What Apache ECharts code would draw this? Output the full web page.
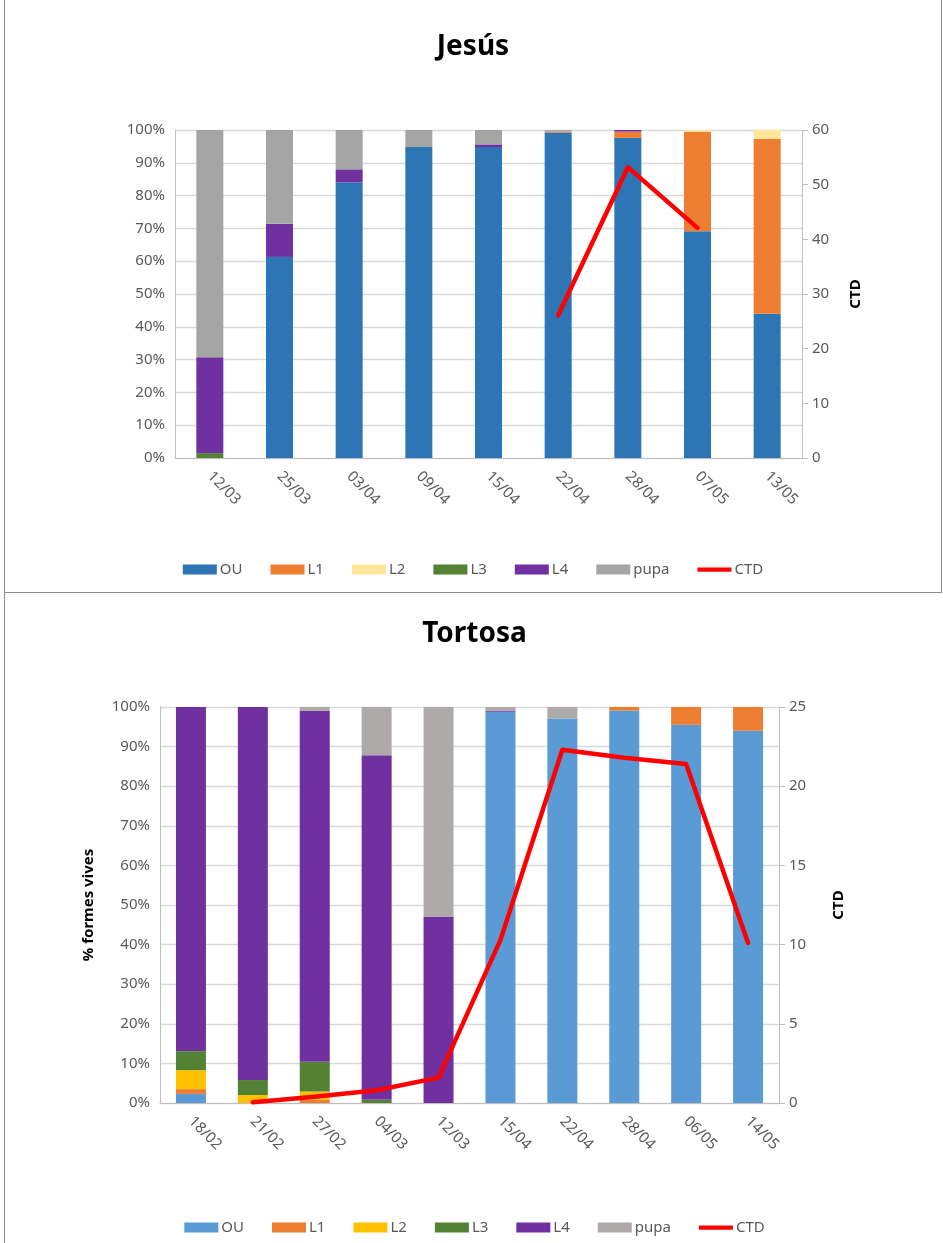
<!DOCTYPE html>
<html>
<head>
<meta charset="utf-8">
<script src="https://cdn.jsdelivr.net/npm/echarts@6/dist/echarts.min.js"></script>
<style>
  html, body { margin: 0; padding: 0; background: #fff; }
  body { width: 943px; height: 1243px; position: relative; overflow: hidden; }
  #jesus { position: absolute; left: 4px; top: 0; width: 936px; height: 592px;
           border-left: 1px solid #8c8c8c; border-right: 1px solid #8c8c8c; border-bottom: 1px solid #8c8c8c; }
  #tortosa { position: absolute; left: 4px; top: 593px; width: 939px; height: 650px;
             border-left: 1px solid #8c8c8c; }
</style>
</head>
<body>
<div id="jesus"></div>
<div id="tortosa"></div>
<script>
// Jesús
const jesusDates = ['12/03', '25/03', '03/04', '09/04', '15/04', '22/04', '28/04', '07/05', '13/05'];
const jesusOU   = [0, 61.3, 84.1, 94.8, 94.8, 99.2, 97.6, 69.1, 44.0];
const jesusL1   = [0, 0, 0, 0, 0, 0.3, 1.9, 30.4, 53.3];
const jesusL2   = [0, 0, 0, 0, 0, 0, 0, 0.5, 2.7];
const jesusL3   = [1.5, 0, 0, 0, 0, 0, 0, 0, 0];
const jesusL4   = [29.2, 10.1, 3.9, 0, 0.8, 0, 0.5, 0, 0];
const jesusPupa = [69.3, 28.6, 12.0, 5.2, 4.4, 0.5, 0, 0, 0];
const jesusCTD  = [null, null, null, null, null, 26.1, 53.2, 42.1, null];

// Tortosa
const tortosaDates = ['18/02', '21/02', '27/02', '04/03', '12/03', '15/04', '22/04', '28/04', '06/05', '14/05'];
const tortosaOU   = [2.3, 0, 0, 0, 0, 98.8, 97.1, 99.1, 95.5, 94.0];
const tortosaL1   = [1.2, 0, 0.8, 0, 0, 0, 0, 0.9, 4.5, 6.0];
const tortosaL2   = [4.8, 2.0, 2.1, 0, 0, 0, 0, 0, 0, 0];
const tortosaL3   = [4.8, 3.8, 7.5, 0.8, 0, 0, 0, 0, 0, 0];
const tortosaL4   = [86.9, 94.2, 88.6, 87.0, 47.0, 0.3, 0, 0, 0, 0];
const tortosaPupa = [0, 0, 1.0, 12.2, 53.0, 0.9, 2.9, 0, 0, 0];
const tortosaCTD  = [null, 0.05, 0.4, 0.8, 1.6, 10.3, 22.3, 21.8, 21.4, 10.1];

const stageNames = ['OU', 'L1', 'L2', 'L3', 'L4', 'pupa'];
const font = 'Noto Sans';
const textGrey = '#595959';

function buildOption(cfg) {
  const bars = cfg.stages.map((vals, i) => ({
    name: stageNames[i],
    type: 'bar',
    stack: 'forms',
    barWidth: cfg.barWidth,
    itemStyle: { color: cfg.colors[i] },
    data: vals
  }));
  const legendData = stageNames.map(n => ({ name: n, icon: 'rect' }));
  legendData.push({ name: 'CTD', icon: 'path://M0,0 H32 V4 H0 Z', itemStyle: { color: '#ff0000' } });
  return {
    animation: false,
    textStyle: { fontFamily: font },
    title: {
      text: cfg.title, left: 'center', top: cfg.titleTop,
      textStyle: { fontFamily: font, fontSize: 28, fontWeight: 'bold', color: '#000' }
    },
    legend: {
      top: cfg.legendTop, left: 'center', itemWidth: 34, itemHeight: 10, itemGap: 28,
      textStyle: { fontFamily: font, fontSize: 15, color: textGrey, padding: [0, 0, 0, -2] },
      data: legendData
    },
    grid: cfg.grid,
    xAxis: {
      type: 'category',
      data: cfg.dates,
      axisLine: { lineStyle: { color: '#bfbfbf' } },
      axisTick: { show: false },
      axisLabel: { rotate: -45, margin: 16, fontSize: 15, color: textGrey, fontFamily: font }
    },
    yAxis: [
      {
        type: 'value', min: 0, max: 100, interval: 10,
        name: cfg.leftName, nameLocation: 'middle', nameGap: 64, nameRotate: 90,
        nameTextStyle: { fontFamily: font, fontSize: 15, fontWeight: 'bold', color: '#000' },
        axisLine: { show: true, lineStyle: { color: '#bfbfbf' } },
        axisTick: { show: false },
        axisLabel: { formatter: '{value}%', fontSize: 15, color: textGrey, margin: 10, fontFamily: font },
        splitLine: { lineStyle: { color: '#d9d9d9', width: 1.3 } }
      },
      {
        type: 'value', min: 0, max: cfg.ctdMax, interval: cfg.ctdStep, position: 'right',
        name: 'CTD', nameLocation: 'middle', nameGap: cfg.ctdNameGap, nameRotate: 90,
        nameTextStyle: { fontFamily: font, fontSize: 15, fontWeight: 'bold', color: '#000' },
        axisLine: { show: true, lineStyle: { color: '#bfbfbf' } },
        axisTick: { show: true, length: 6, lineStyle: { color: '#bfbfbf' } },
        axisLabel: { fontSize: 15, color: textGrey, margin: 10, fontFamily: font },
        splitLine: { show: false }
      }
    ],
    series: bars.concat([{
      name: 'CTD',
      type: 'line',
      yAxisIndex: 1,
      symbol: 'none',
      connectNulls: false,
      z: 5,
      lineStyle: { color: '#ff0000', width: 4.5, join: 'round', cap: 'round' },
      itemStyle: { color: '#ff0000' },
      data: cfg.ctd
    }])
  };
}

const jesusChart = echarts.init(document.getElementById('jesus'));
jesusChart.setOption(buildOption({
  title: 'Jesús', titleTop: 28, legendTop: 557,
  grid: { left: 170, right: 139, top: 130, bottom: 134 },
  dates: jesusDates,
  stages: [jesusOU, jesusL1, jesusL2, jesusL3, jesusL4, jesusPupa],
  colors: ['#2e75b6', '#ed7d31', '#ffe699', '#548235', '#7030a0', '#a5a5a5'],
  barWidth: 27,
  leftName: '',
  ctdMax: 60, ctdStep: 10, ctdNameGap: 46,
  ctd: jesusCTD
}));

const tortosaChart = echarts.init(document.getElementById('tortosa'));
tortosaChart.setOption(buildOption({
  title: 'Tortosa', titleTop: 22, legendTop: 622,
  grid: { left: 155, right: 165, top: 114, bottom: 140 },
  dates: tortosaDates,
  stages: [tortosaOU, tortosaL1, tortosaL2, tortosaL3, tortosaL4, tortosaPupa],
  colors: ['#5b9bd5', '#ed7d31', '#ffc000', '#548235', '#7030a0', '#aeaaaa'],
  barWidth: 30,
  leftName: '% formes vives',
  ctdMax: 25, ctdStep: 5, ctdNameGap: 52,
  ctd: tortosaCTD
}));
</script>
</body>
</html>
